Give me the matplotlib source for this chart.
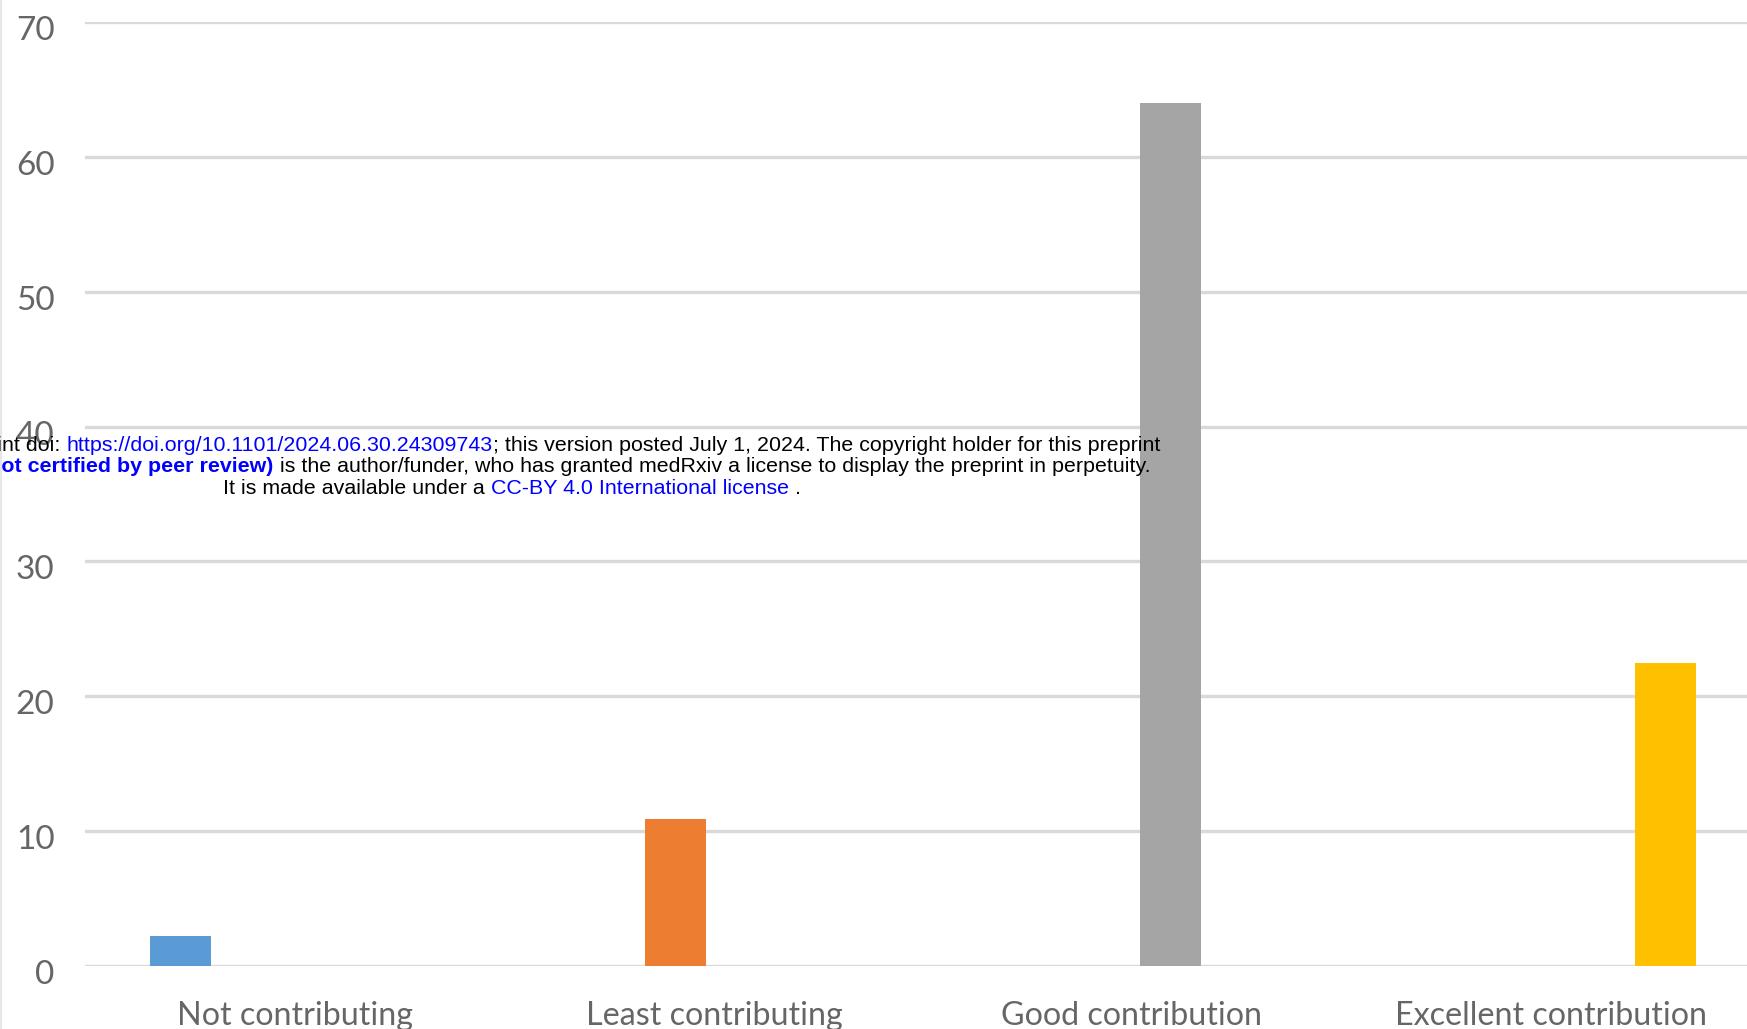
import numpy as np
import matplotlib.pyplot as plt
from matplotlib.transforms import ScaledTranslation

categories = ["Not contributing", "Least contributing", "Good contribution", "Excellent contribution"]
values = [2.2, 10.9, 64.0, 22.5]
colors = ["#5B9BD5", "#ED7D31", "#A5A5A5", "#FFC000"]
yticks = [0, 10, 20, 30, 40, 50, 60, 70]

W, H = 1747, 1029
fig = plt.figure(figsize=(W / 100, H / 100), dpi=100)
ax = fig.add_axes([85 / W, (H - 966) / H, 1 - 85 / W, (966 - 22) / H])

x = np.arange(len(categories))
ax.bar(x, values, width=0.122, color=colors, zorder=3)

ax.set_ylim(0, 70)
ax.set_xlim(-0.193, 3.165)
ax.set_yticks(yticks)
ax.set_xticks([])
ax.grid(axis="y", color="#d9d9d9", linewidth=2.4, zorder=0)
for s in ax.spines.values():
    s.set_visible(False)
ax.tick_params(axis="y", length=0, pad=22, labelsize=24, labelcolor="#666666")
shift = ScaledTranslation(0, -6 / 100, fig.dpi_scale_trans)
for t in ax.get_yticklabels():
    t.set_fontfamily("Lato")
    t.set_transform(t.get_transform() + shift)

# category labels under the bars (legend-like, evenly spaced)
label_x = [0.231, 1.078, 1.922, 2.769]
for lx, name in zip(label_x, categories):
    ax.text(lx, -0.062, name, transform=ax.get_xaxis_transform(),
            ha="center", va="baseline", fontsize=23.2, color="#666666",
            family="Lato", clip_on=False)

# faint left border
fig.add_artist(plt.Line2D([1 / W, 1 / W], [0, 1], color="#e6e6e6", linewidth=1.5))

# medRxiv stamp, drawn piece by piece on a shared baseline
fs = 15.4
blue = "#0000ff"
renderer = fig.canvas.get_renderer()

def width_px(txt, wt):
    t = fig.text(0, 0, txt, fontsize=fs, fontweight=wt, family="Liberation Sans")
    w = t.get_window_extent(renderer).width
    t.remove()
    return w

def draw_line(pieces, x0, y):
    xp = x0
    for txt, col, wt in pieces:
        fig.text(xp / W, (H - y) / H, txt, color=col, fontweight=wt, fontsize=fs,
                 family="Liberation Sans", ha="left", va="baseline")
        xp += width_px(txt, wt)

def line_width(pieces):
    return sum(width_px(txt, wt) for txt, col, wt in pieces)

line1 = [("medRxiv preprint doi: ", "black", "normal"),
         ("https://doi.org/10.1101/2024.06.30.24309743", blue, "normal"),
         ("; this version posted July 1, 2024. The copyright holder for this preprint", "black", "normal")]
line2 = [("(which was not certified by peer review)", blue, "bold"),
         (" is the author/funder, who has granted medRxiv a license to display the preprint in perpetuity.", "black", "normal")]
line3 = [("It is made available under a ", "black", "normal"),
         ("CC-BY 4.0 International license", blue, "normal"),
         (" .", "black", "normal")]

draw_line(line1, 1160 - line_width(line1), 451)
draw_line(line2, 1150 - line_width(line2), 472)
draw_line(line3, 223, 494)

fig.savefig("out.png", dpi=100)
